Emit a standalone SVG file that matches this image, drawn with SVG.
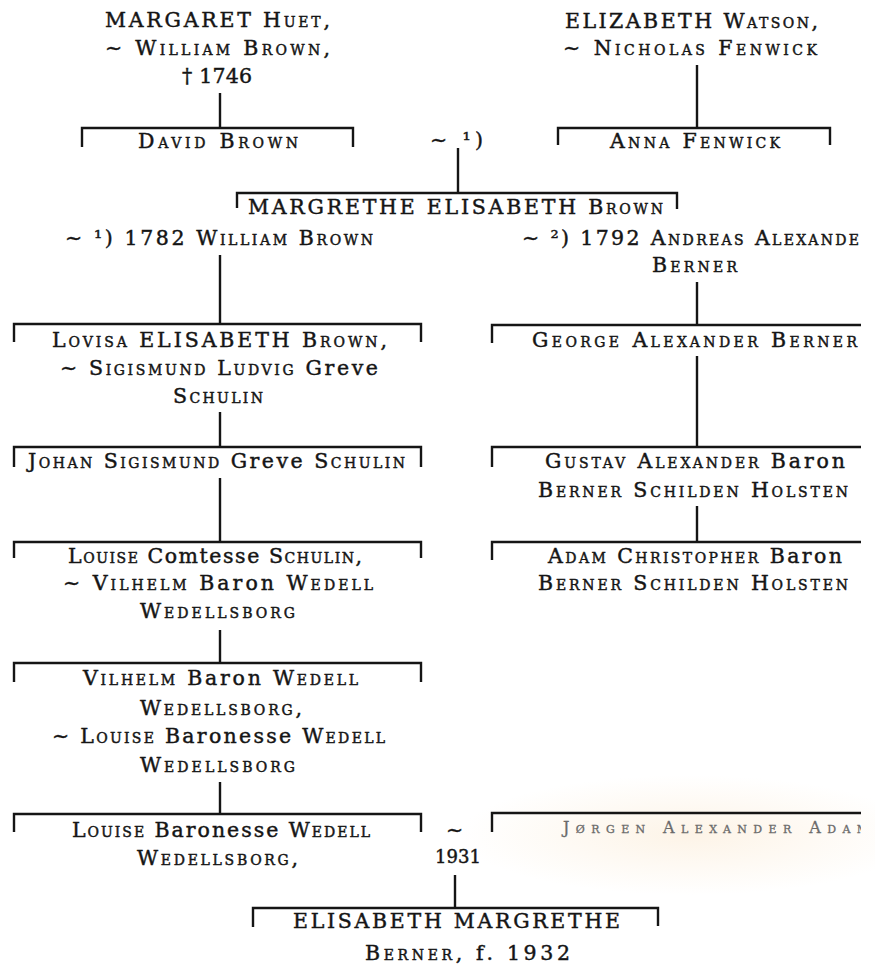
<svg xmlns="http://www.w3.org/2000/svg" width="875" height="965" viewBox="0 0 875 965">
<style>
.t{font-family:"DejaVu Serif","Liberation Serif",serif;font-size:20.5px;font-variant:small-caps;fill:#151515;stroke:#151515;stroke-width:0.45px}
.n{font-variant:normal}
.s{font-size:16px;fill:#6a6a6a;stroke:#6a6a6a;stroke-width:0.3px}
.ln{stroke:#151515;stroke-width:2.4;fill:none}
</style>
<defs>
<clipPath id="page"><rect x="0" y="0" width="861" height="965"/></clipPath>
<radialGradient id="glow" cx="0.5" cy="0.5" r="0.5">
<stop offset="0" stop-color="#fcefdd" stop-opacity="0.7"/>
<stop offset="1" stop-color="#fcefdd" stop-opacity="0"/>
</radialGradient>
</defs>
<rect width="875" height="965" fill="#ffffff"/>
<ellipse cx="690" cy="835" rx="230" ry="60" fill="url(#glow)"/>
<g clip-path="url(#page)">
<g id="connectors">
<path class="ln" d="M220 93V128M697 65V128M458 148V193M220 255V324M697 282V325M220 412V447M697 356V447M220 478V542M697 506V542M220 630V663M220 782V814M455 875V908"/>
<text class="t" x="430" y="147" textLength="53" lengthAdjust="spacing">~ ¹)</text>
<text class="t" x="446" y="837">~</text>
<text class="t" x="458" y="863" text-anchor="middle" style="font-size:18px">1931</text>
</g>
<g id="margaret">
<text class="t" x="105" y="27" textLength="225" lengthAdjust="spacing">MARGARET Huet,</text>
<text class="t" x="105" y="55" textLength="225" lengthAdjust="spacing">~ William Brown,</text>
<text class="t" x="182" y="83" textLength="70" lengthAdjust="spacing">† 1746</text>
</g>
<g id="elizabeth">
<text class="t" x="565" y="28" textLength="253" lengthAdjust="spacing">ELIZABETH Watson,</text>
<text class="t" x="563" y="55" textLength="254" lengthAdjust="spacing">~ Nicholas Fenwick</text>
</g>
<g id="david">
<path class="ln" d="M82 147V128H353V147"/>
<text class="t" x="138" y="148" textLength="160" lengthAdjust="spacing">David Brown</text>
</g>
<g id="anna">
<path class="ln" d="M558 145V128H830V145"/>
<text class="t" x="610" y="148" textLength="170" lengthAdjust="spacing">Anna Fenwick</text>
</g>
<g id="margrethe">
<path class="ln" d="M237 208V193H677V209"/>
<text class="t" x="248" y="214" textLength="415" lengthAdjust="spacing">MARGRETHE ELISABETH Brown</text>
</g>
<g id="spouse1">
<text class="t" x="65" y="245" textLength="308" lengthAdjust="spacing">~ ¹) 1782 William Brown</text>
</g>
<g id="spouse2">
<text class="t" x="522" y="245" textLength="350" lengthAdjust="spacing">~ ²) 1792 Andreas Alexander</text>
<text class="t" x="652" y="272" textLength="85" lengthAdjust="spacing">Berner</text>
</g>
<g id="lovisa">
<path class="ln" d="M14 342V324H421V342"/>
<text class="t" x="52" y="347" textLength="335" lengthAdjust="spacing">Lovisa ELISABETH Brown,</text>
<text class="t" x="60" y="375" textLength="318" lengthAdjust="spacing">~ Sigismund Ludvig <tspan class="n">Greve</tspan></text>
<text class="t" x="173" y="403" textLength="90" lengthAdjust="spacing">Schulin</text>
</g>
<g id="george">
<path class="ln" d="M492 343V325H862"/>
<text class="t" x="532" y="347" textLength="325" lengthAdjust="spacing">George Alexander Berner</text>
</g>
<g id="johan">
<path class="ln" d="M14 467V447H421V467"/>
<text class="t" x="28" y="468" textLength="377" lengthAdjust="spacing">Johan Sigismund <tspan class="n">Greve</tspan> Schulin</text>
</g>
<g id="gustav">
<path class="ln" d="M492 467V447H862"/>
<text class="t" x="545" y="468" textLength="300" lengthAdjust="spacing">Gustav Alexander <tspan class="n">Baron</tspan></text>
<text class="t" x="538" y="497" textLength="310" lengthAdjust="spacing">Berner Schilden Holsten</text>
</g>
<g id="louise1">
<path class="ln" d="M14 558V542H421V558"/>
<text class="t" x="68" y="563" textLength="294" lengthAdjust="spacing">Louise <tspan class="n">Comtesse</tspan> Schulin,</text>
<text class="t" x="63" y="590" textLength="310" lengthAdjust="spacing">~ Vilhelm <tspan class="n">Baron</tspan> Wedell</text>
<text class="t" x="140" y="618" textLength="155" lengthAdjust="spacing">Wedellsborg</text>
</g>
<g id="adam">
<path class="ln" d="M492 560V542H862"/>
<text class="t" x="548" y="563" textLength="294" lengthAdjust="spacing">Adam Christopher <tspan class="n">Baron</tspan></text>
<text class="t" x="538" y="590" textLength="310" lengthAdjust="spacing">Berner Schilden Holsten</text>
</g>
<g id="vilhelm">
<path class="ln" d="M14 682V663H421V682"/>
<text class="t" x="83" y="685" textLength="275" lengthAdjust="spacing">Vilhelm <tspan class="n">Baron</tspan> Wedell</text>
<text class="t" x="140" y="715" textLength="162" lengthAdjust="spacing">Wedellsborg,</text>
<text class="t" x="52" y="743" textLength="333" lengthAdjust="spacing">~ Louise <tspan class="n">Baronesse</tspan> Wedell</text>
<text class="t" x="140" y="772" textLength="155" lengthAdjust="spacing">Wedellsborg</text>
</g>
<g id="louise2">
<path class="ln" d="M14 832V814H421V832"/>
<text class="t" x="72" y="837" textLength="298" lengthAdjust="spacing">Louise <tspan class="n">Baronesse</tspan> Wedell</text>
<text class="t" x="137" y="865" textLength="161" lengthAdjust="spacing">Wedellsborg,</text>
</g>
<g id="jorgen">
<path class="ln" d="M492 832V813H862"/>
<text class="t s" x="563" y="833" textLength="305" lengthAdjust="spacing">Jørgen Alexander Adam</text>
</g>
<g id="elisabeth">
<path class="ln" d="M253 927V908H658V926"/>
<text class="t" x="293" y="928" textLength="327" lengthAdjust="spacing">ELISABETH MARGRETHE</text>
<text class="t" x="365" y="960" textLength="205" lengthAdjust="spacing">Berner, <tspan class="n">f.</tspan> 1932</text>
</g>
</g>
</svg>
